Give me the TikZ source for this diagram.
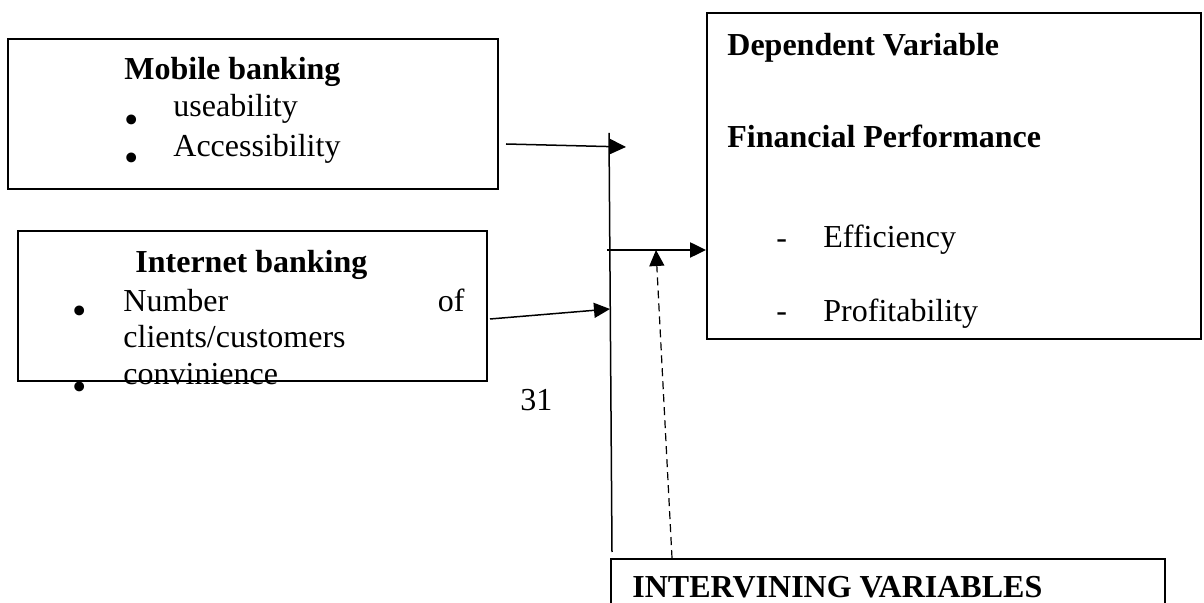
\documentclass[tikz,border=0pt]{standalone}
\usepackage{fontspec}
\setmainfont{Liberation Serif}
\usetikzlibrary{arrows.meta}

\tikzset{
  frame/.style={draw, line width=0.9pt, inner sep=0pt, anchor=north west},
  txt/.style={anchor=base west, inner sep=0pt, font=\fontsize{16}{19}\selectfont},
  head/.style={txt, font=\fontsize{16}{19}\selectfont\bfseries},
  dot/.style={anchor=base, inner sep=0pt, font=\fontsize{20.5}{21}\selectfont},
  link/.style={line width=0.75pt, -{Triangle[length=8pt,width=7.5pt]}},
}

\begin{document}
\begin{tikzpicture}[x=0.5pt,y=-0.5pt]
\useasboundingbox (0,0) rectangle (1204,603);
\clip (0,0) rectangle (1204,603);
% boxes:
\node[frame, minimum width=245pt, minimum height=75pt] (mobile) at (7,38) {};
\node[frame, minimum width=234.5pt, minimum height=75pt] (internet) at (17,230) {};
\node[frame, minimum width=247pt, minimum height=163pt] (dependent) at (706,12) {};
\node[frame, minimum width=277pt, minimum height=60pt] (intervening) at (610,558) {};
% independent variables:
\node[head] (mb) at (124,80) {Mobile banking};
\node[dot] (mbd1) at (132,134) {•};
\node[txt] (mb1) at (173,117) {useability};
\node[dot] (mbd2) at (132,172) {•};
\node[txt] (mb2) at (173,157) {Accessibility};
\node[head] (ib) at (135,273) {Internet banking};
\node[dot] (ibd1) at (80,325) {•};
\node[txt] (ib1) at (123,312) {Number};
\node[txt, anchor=base east] (ib1b) at (465,312) {of};
\node[txt] (ib2) at (123,348) {clients/customers};
\node[dot] (ibd2) at (80,401) {•};
\node[txt] (ib3) at (123,385) {convinience};
\node[txt] (pg) at (520,411) {31};
% dependent variable:
\node[head] (dv) at (727,56) {Dependent Variable};
\node[head] (fp) at (727,148) {Financial Performance};
\node[txt] (ds1) at (776,249) {-};
\node[txt] (ef) at (823,248) {Efficiency};
\node[txt] (ds2) at (776,322) {-};
\node[txt] (pr) at (823,322) {Profitability};
% intervening variables:
\node[head] (iv) at (632,597) {INTERVINING VARIABLES};
% connectors:
\coordinate (bartop) at (609,133);
\coordinate (barbot) at (612,552);
\draw[line width=0.75pt] (bartop) -- (barbot);
\coordinate (mout) at (506,144);
\coordinate (min) at (626,147);
\draw[link] (mout) -- (min);
\coordinate (iout) at (490,319);
\coordinate (iin) at (610,309);
\draw[link] (iout) -- (iin);
\coordinate (jout) at (607,250);
\draw[link, line width=1.25pt] (jout) -- (jout -| dependent.west);
\coordinate (mod) at (656,250);
\draw[link, line width=0.6pt, dash pattern=on 4pt off 2.5pt] ([xshift=31pt]intervening.north west) -- (mod);
\end{tikzpicture}
\end{document}
